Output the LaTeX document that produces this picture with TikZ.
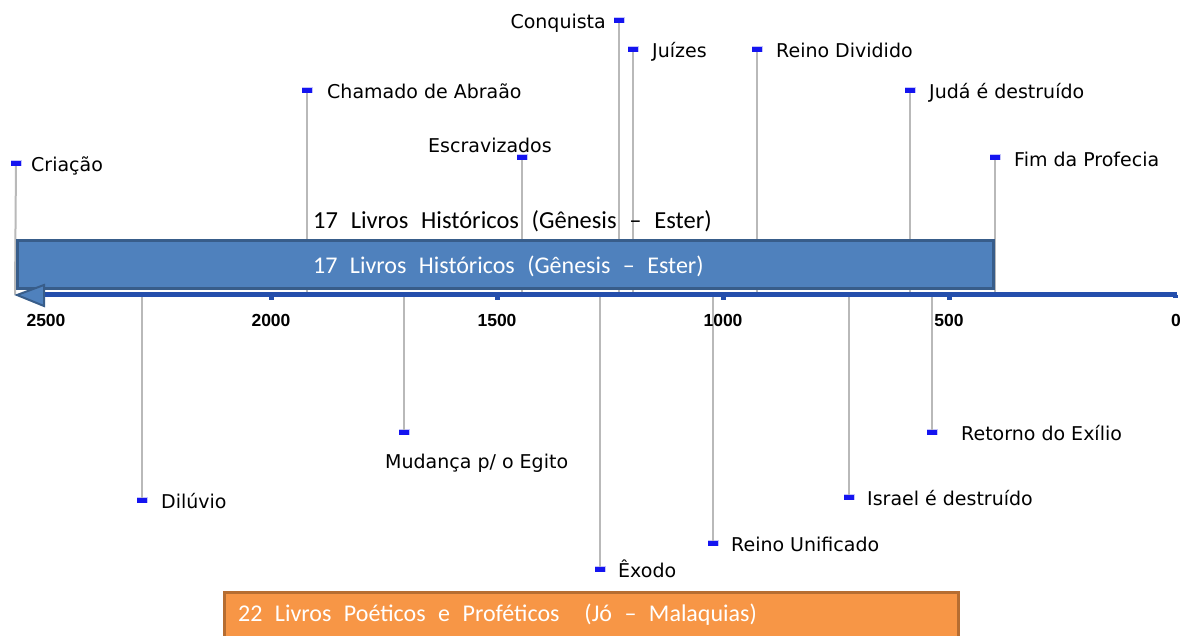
\documentclass[tikz,border=0pt]{standalone}
\usepackage{fontspec}
\setmainfont{DejaVu Sans}
\newfontfamily\calib{Carlito}[WordSpace=2.3]
\newfontfamily\arialf{Liberation Sans}
\definecolor{axisblue}{RGB}{36,78,172}
\definecolor{barfill}{RGB}{79,129,189}
\definecolor{barline}{RGB}{56,93,138}
\definecolor{orfill}{RGB}{247,150,70}
\definecolor{orline}{RGB}{182,109,49}
\definecolor{mk}{RGB}{20,20,240}
\definecolor{stemc}{RGB}{185,185,185}
\tikzset{
  stemline/.style={draw=stemc, line width=2pt},
  mark box/.style={fill=mk, draw=mk!25, line width=1pt, minimum width=10pt, minimum height=5pt, inner sep=0pt},
  lbl/.style={font=\fontsize{19}{22}\selectfont, inner sep=0pt, anchor=base west},
  yr/.style={font=\arialf\bfseries\fontsize{17.5}{20}\selectfont, inner sep=0pt},
  bartext/.style={font=\calib\fontsize{24.5}{28}\selectfont, inner sep=0pt, anchor=base west},
}
\begin{document}
\begin{tikzpicture}[x=1pt,y=-1pt]
\useasboundingbox (0,0) rectangle (1185,635);
\clip (0,0) rectangle (1185,635);
% axis reference coordinates
\coordinate (ax0) at (17,295);
\coordinate (ax1) at (1177,294.5);
% markers
\node[mark box] (m1) at (16,163) {};
\node[mark box] (m2) at (142,500) {};
\node[mark box] (m3) at (307,90) {};
\node[mark box] (m4) at (404,432) {};
\node[mark box] (m5) at (522,157) {};
\node[mark box] (m6) at (600,569) {};
\node[mark box] (m7) at (619,20) {};
\node[mark box] (m8) at (633,49) {};
\node[mark box] (m9) at (713,543) {};
\node[mark box] (m10) at (757,49) {};
\node[mark box] (m11) at (849,497) {};
\node[mark box] (m12) at (910,90) {};
\node[mark box] (m13) at (932,432) {};
\node[mark box] (m14) at (995,157) {};
% axis end points under each marker
\foreach \i/\x in {1/15,2/142,3/307,4/404,5/522,6/600,7/619,8/633,9/713,10/757,11/849,12/910,13/932,14/995}
  \coordinate (a\i) at (\x,294.5);
% stems
\foreach \i in {1,...,14}
  \draw[stemline] (m\i.center) -- (a\i);
% blue bar
\node[draw=barline, line width=3pt, fill=barfill, minimum width=976pt, minimum height=48pt, inner sep=0pt, anchor=north west] (bar) at (16,238.5) {};
% axis
\draw[axisblue, line width=5pt] (40,294.5) -- (ax1);
\foreach \x in {271,497,723,949}
  \draw[axisblue, line width=5pt] (\x,294.5) -- (\x,300);
\draw[axisblue, line width=5pt] (1175,294.5) -- (1175,298);
% arrow head at the left end of the axis
\draw[draw=barline, line width=2pt, line join=miter, fill=barfill] (ax0) -- (44,285) -- (44,306) -- cycle;
% redraw marker boxes on top
\foreach \i in {1,...,14}
  \fill[mk] ([xshift=-5pt,yshift=2.5pt]m\i.center) rectangle ([xshift=5pt,yshift=-2.5pt]m\i.center);
% year labels
\node[yr] (y2500) at (46,320) {2500};
\node[yr] (y2000) at (271,320) {2000};
\node[yr] (y1500) at (497,320) {1500};
\node[yr] (y1000) at (723,320) {1000};
\node[yr] (y500) at (949,320) {500};
\node[yr] (y0) at (1176,320) {0};
% event labels
\node[lbl] (l1) at (31,171) {Criação};
\node[lbl] (l2) at (161,508) {Dilúvio};
\node[lbl] (l3) at (327,98) {Chamado de Abraão};
\node[lbl] (l4) at (385,468) {Mudança p/ o Egito};
\node[lbl] (l5) at (428,152) {Escravizados};
\node[lbl] (l6) at (618,577) {Êxodo};
\node[lbl, anchor=base east] (l7) at (606,28) {Conquista};
\node[lbl] (l8) at (652,57) {Juízes};
\node[lbl] (l9) at (731,551) {Reino Unificado};
\node[lbl] (l10) at (776,57) {Reino Dividido};
\node[lbl] (l11) at (867,505) {Israel é destruído};
\node[lbl] (l12) at (929,98) {Judá é destruído};
\node[lbl] (l13) at (961,440) {Retorno do Exílio};
\node[lbl] (l14) at (1014,166) {Fim da Profecia};
% bar texts
\node[bartext] (t1) at (313,228) {17 Livros Históricos (Gênesis – Ester)};
\node[bartext, text=white, font=\calib\fontsize{24}{28}\selectfont] (t2) at (313,273) {17 Livros Históricos (Gênesis – Ester)};
% orange bar
\node[draw=orline, line width=3pt, fill=orfill, minimum width=734pt, minimum height=60pt, inner sep=0pt, anchor=north west] (obar) at (223,590.5) {};
\node[bartext, text=white, font=\calib\fontsize{24}{28}\selectfont] (t3) at (238,621) {22 Livros Poéticos e Proféticos \ (Jó – Malaquias)};
\end{tikzpicture}
\end{document}
